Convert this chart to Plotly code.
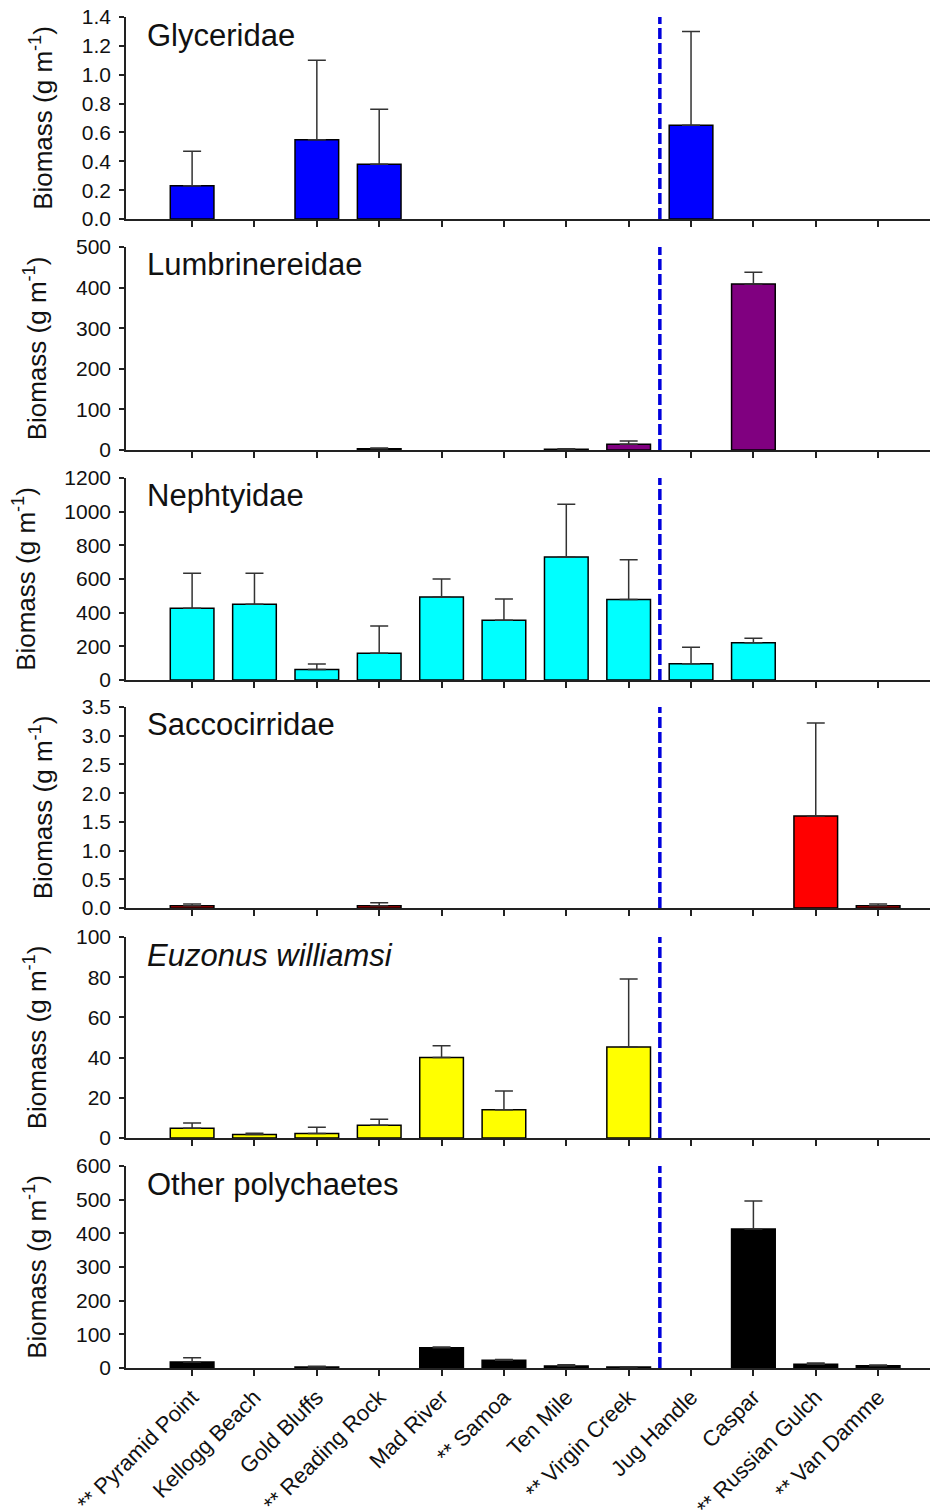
import plotly.graph_objects as go

categories = ["** Pyramid Point", "Kellogg Beach", "Gold Bluffs", "** Reading Rock",
              "Mad River", "** Samoa", "Ten Mile", "** Virgin Creek",
              "Jug Handle", "Caspar", "** Russian Gulch", "** Van Damme"]

glyceridae = [0.23, None, 0.55, 0.38, None, None, None, None, 0.65, None, None, None]
glyceridae_err = [0.24, 0, 0.55, 0.38, 0, 0, 0, 0, 0.65, 0, 0, 0]

lumbrinereidae = [None, None, None, 3, None, None, 2, 14, None, 409, None, None]
lumbrinereidae_err = [0, 0, 0, 2, 0, 0, 1, 8, 0, 29, 0, 0]

nephtyidae = [426, 450, 63, 159, 493, 355, 731, 479, 97, 222, None, None]
nephtyidae_err = [208, 184, 32, 162, 107, 126, 313, 236, 97, 26, 0, 0]

saccocirridae = [0.04, None, None, 0.04, None, None, None, None, None, None, 1.60, 0.04]
saccocirridae_err = [0.03, 0, 0, 0.05, 0, 0, 0, 0, 0, 0, 1.62, 0.03]

euzonus = [4.8, 1.8, 2.3, 6.3, 40.0, 14.0, None, 45.3, None, None, None, None]
euzonus_err = [2.7, 0.6, 3.0, 3.0, 5.9, 9.4, 0, 33.8, 0, 0, 0, 0]

other = [17.8, None, 3, None, 60.4, 23, 6, 3, None, 413, 11, 7]
other_err = [12.9, 0, 2, 0, 2, 2, 4, 1, 0, 83, 4, 2]

panel_names = ["Glyceridae", "Lumbrinereidae", "Nephtyidae", "Saccocirridae",
               "<i>Euzonus williamsi</i>", "Other polychaetes"]
panel_values = [glyceridae, lumbrinereidae, nephtyidae, saccocirridae, euzonus, other]
panel_errors = [glyceridae_err, lumbrinereidae_err, nephtyidae_err,
                saccocirridae_err, euzonus_err, other_err]
panel_colors = ["#0000FF", "#800080", "#00FFFF", "#FF0000", "#FFFF00", "#000000"]
y_ticks = [
    [0.0, 0.2, 0.4, 0.6, 0.8, 1.0, 1.2, 1.4],
    [0, 100, 200, 300, 400, 500],
    [0, 200, 400, 600, 800, 1000, 1200],
    [0.0, 0.5, 1.0, 1.5, 2.0, 2.5, 3.0, 3.5],
    [0, 20, 40, 60, 80, 100],
    [0, 100, 200, 300, 400, 500, 600],
]
y_format = [".1f", "d", "d", ".1f", "d", "d"]
divider_position = 7.5

# page body has an 8px margin, so the figure is laid out in page pixels minus 8
OFF = 8
W, H = 938 - OFF, 1511 - OFF
tops = [p - OFF for p in [17, 247, 478, 707, 937, 1166]]
bottoms = [p - OFF for p in [219, 450, 680, 908, 1138, 1368]]
x_left = 126 - OFF

FONT = "Liberation Sans, Arial, sans-serif"
fig = go.Figure()
layout = {}
shapes = []
annotations = []

for i in range(6):
    n = i + 1
    xa = "x" if n == 1 else f"x{n}"
    ya = "y" if n == 1 else f"y{n}"
    fig.add_trace(go.Bar(
        x=categories, y=panel_values[i], xaxis=xa, yaxis=ya,
        width=0.7,
        marker=dict(color=panel_colors[i], line=dict(color="#000000", width=1.5)),
        error_y=dict(type="data", symmetric=False, array=panel_errors[i],
                     arrayminus=[0] * len(categories),
                     color="#333333", thickness=1.5, width=9),
        showlegend=False,
    ))
    dom_y = [1 - bottoms[i] / H, 1 - tops[i] / H]
    top_val = y_ticks[i][-1]
    layout[f"xaxis{'' if n == 1 else n}"] = dict(
        domain=[x_left / W, 1.0], anchor=ya, type="category",
        categoryorder="array", categoryarray=categories,
        range=[-1.06, 11.96],
        showline=True, linecolor="#222222", linewidth=1.5,
        ticks="outside", ticklen=6, tickwidth=1.5, tickcolor="#222222",
        showticklabels=(n == 6), tickangle=-45,
        tickfont=dict(family=FONT, size=22, color="#111111"),
        showgrid=False, zeroline=False, fixedrange=True,
    )
    layout[f"yaxis{'' if n == 1 else n}"] = dict(
        domain=dom_y, anchor=xa, range=[0, top_val * 1.0001],
        tickmode="array", tickvals=y_ticks[i],
        ticktext=[format(v, y_format[i]) if y_format[i] != "d" else str(int(v))
                  for v in y_ticks[i]],
        showline=True, linecolor="#222222", linewidth=1.5,
        ticks="outside", ticklen=5, tickwidth=1.5, tickcolor="#222222",
        tickfont=dict(family=FONT, size=21, color="#111111"),
        ticklabelstandoff=4, ticklabeloverflow="allow",
        title=dict(text="Biomass (g m<sup>-1</sup>)", standoff=22,
                   font=dict(family=FONT, size=26, color="#111111")),
        showgrid=False, zeroline=False, fixedrange=True,
    )
    shapes.append(dict(type="line", xref=xa, yref=f"{ya} domain",
                       x0=divider_position, x1=divider_position, y0=0, y1=1,
                       line=dict(color="#0000DD", width=3.5, dash="11px,4px")))
    annotations.append(dict(text=panel_names[i], xref="paper", yref="paper",
                            x=(145 - OFF) / W, y=1 - (tops[i] + 18) / H,
                            xanchor="left", yanchor="middle", showarrow=False,
                            font=dict(family=FONT, size=31, color="#111111")))

fig.update_layout(
    width=W, height=H,
    margin=dict(l=0, r=0, t=0, b=0, autoexpand=False),
    paper_bgcolor="white", plot_bgcolor="white",
    shapes=shapes, annotations=annotations,
    bargap=0.3,
    **layout,
)

fig.write_html("out.html")
